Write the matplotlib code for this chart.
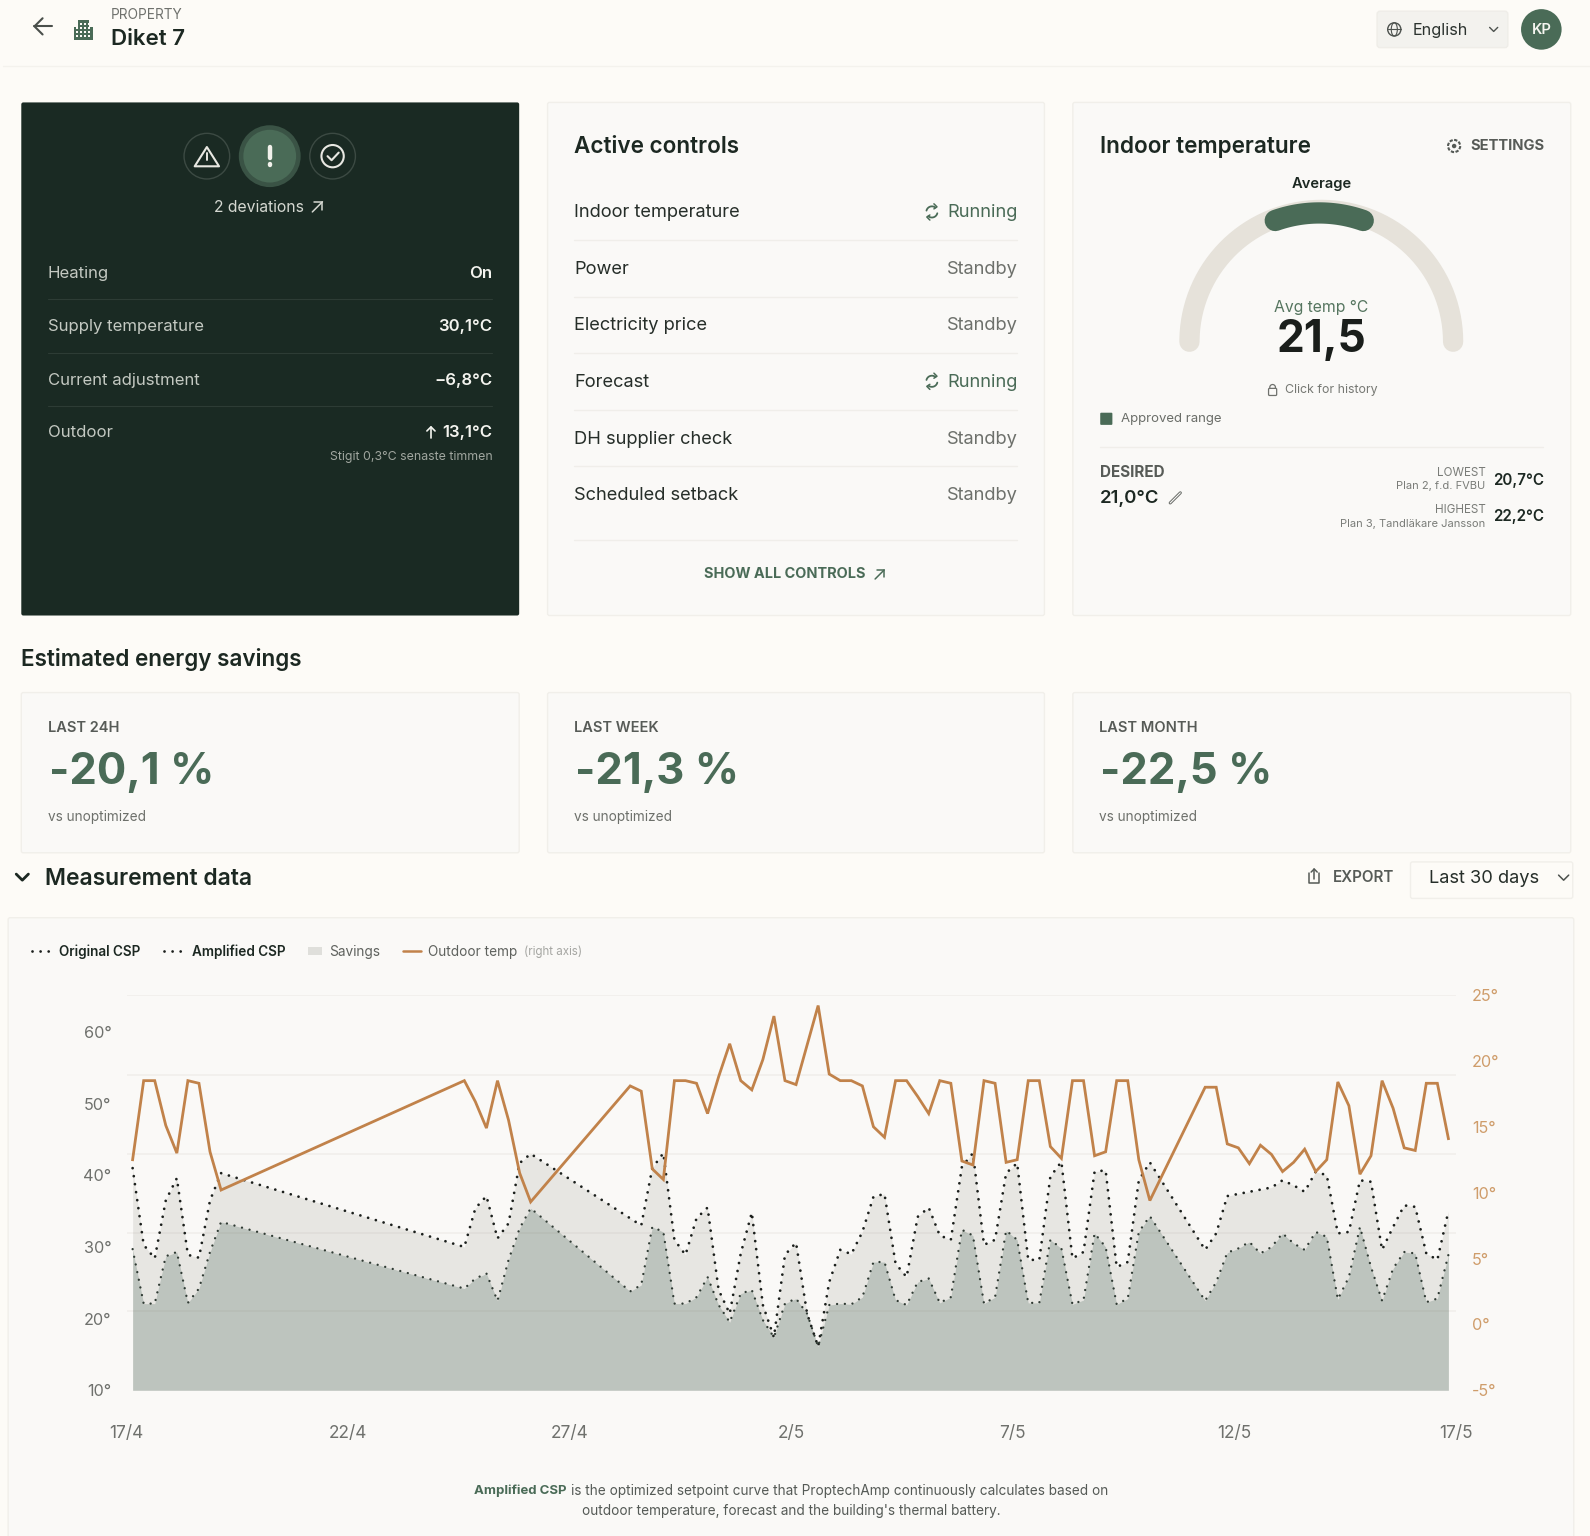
import numpy as np
import matplotlib
matplotlib.use("Agg")
import matplotlib.pyplot as plt
from matplotlib.patches import FancyBboxPatch, Circle, Rectangle, Polygon

plt.rcParams['font.family'] = ['Inter', 'DejaVu Sans']

W, H = 1590, 1536
S = 1590 / 1568

# ---- chart data (one sample every six hours, with gaps where nothing was logged)
sample_index = (list(range(0, 9)) + list(range(30, 37)) + list(range(45, 93)) + list(range(97, 120)))
outdoor_temp = [12.5, 18.5, 18.5, 15.1, 13.0, 18.5, 18.3, 13.1, 10.2,
                18.5, 16.9, 14.9, 18.5, 15.5, 11.5, 9.3,
                18.1, 17.7, 11.8, 11.0, 18.5, 18.5, 18.3, 16.0, 18.8, 21.3, 18.5, 17.8, 20.1, 23.4,
                18.5, 18.2, 21.2, 24.2, 19.0, 18.5, 18.5, 18.1, 15.0, 14.2, 18.5, 18.5, 17.3, 16.0,
                18.5, 18.3, 12.4, 12.1, 18.5, 18.3, 12.3, 12.5, 18.5, 18.5, 13.5, 12.6, 18.5, 18.5,
                12.8, 13.1, 18.5, 18.5, 12.5, 9.4,
                18.0, 18.0, 13.7, 13.4, 12.2, 13.6, 12.9, 11.6, 12.3, 13.3, 11.6, 12.5, 18.4, 16.6,
                11.4, 12.8, 18.5, 16.4, 13.4, 13.2, 18.3, 18.3, 14.1]
original_csp = [41.0, 30.3, 28.4, 36.5, 39.6, 28.9, 28.5, 36.5, 40.3,
                30.0, 35.4, 37.1, 31.2, 33.3, 41.7, 43.0,
                34.0, 33.0, 41.0, 43.1, 31.0, 28.9, 34.0, 35.5, 24.0, 20.7, 29.1, 34.8, 21.9, 17.4,
                28.9, 30.6, 20.7, 16.1, 25.1, 29.6, 29.0, 32.1, 37.0, 37.4, 27.7, 25.8, 34.2, 35.5,
                31.6, 31.0, 41.2, 43.1, 30.3, 31.0, 40.3, 41.7, 28.2, 28.2, 39.8, 41.9, 28.4, 29.3,
                40.5, 40.7, 27.2, 27.9, 39.3, 41.8,
                29.6, 31.9, 37.1, 37.4, 37.7, 38.0, 38.3, 39.3, 38.6, 37.7, 40.5, 40.0, 31.9, 32.1,
                39.3, 39.1, 29.6, 32.8, 35.8, 35.6, 29.1, 28.2, 35.0]
amplified_csp = [29.7, 22.1, 22.1, 28.7, 29.3, 22.2, 24.2, 29.3, 33.5,
                 24.2, 25.6, 26.3, 22.5, 28.2, 32.6, 35.4,
                 23.8, 24.7, 32.8, 32.1, 22.1, 22.1, 23.0, 25.8, 21.9, 19.5, 23.5, 24.0, 19.8, 17.4,
                 22.1, 22.8, 20.7, 16.1, 21.9, 22.1, 22.0, 23.0, 27.9, 27.9, 22.6, 21.9, 25.1, 25.6,
                 22.2, 23.0, 32.4, 31.6, 22.1, 23.0, 32.3, 31.0, 22.2, 22.2, 31.0, 29.8, 22.0, 22.6,
                 31.9, 30.0, 22.0, 22.8, 32.1, 34.3,
                 22.5, 25.1, 29.2, 29.8, 30.7, 29.1, 30.0, 31.9, 30.5, 29.6, 32.1, 31.4, 22.7, 25.8,
                 32.8, 27.2, 22.5, 27.0, 29.3, 29.1, 22.3, 22.8, 28.9]
date_ticks = [0, 5, 10, 15, 20, 25, 30]
date_labels = ['17/4', '22/4', '27/4', '2/5', '7/5', '12/5', '17/5']
left_ticks = [10, 20, 30, 40, 50, 60]
right_ticks = [-5, 0, 5, 10, 15, 20, 25]
grid_levels = [21, 32, 43, 54, 65.16]

# ---- colours
PAGE = '#fdfbf7'; CARD = '#faf9f7'; EDGE = '#f1efea'; DARK = '#1a2a23'; GREEN = '#4a6b57'
INK = '#1c2822'; MUTED = '#6d706b'; ORANGE = '#c1824a'; ORANGE_T = '#cf9d6b'

fig = plt.figure(figsize=(W / 100, H / 100), dpi=100, facecolor=PAGE)
ui = fig.add_axes([0, 0, 1, 1], zorder=1)
ui.set_xlim(0, 1568); ui.set_ylim(H / S, 0); ui.axis('off')


def t(x, y, s, px, color=INK, weight='normal', ha='left', va='center', **kw):
    return ui.text(x, y + 1.5, s, fontsize=px * 0.72 * S, color=color, fontweight=weight, ha=ha, va=va, **kw)


def card(x0, y0, x1, y1, fc=CARD, ec=EDGE, r=2):
    ui.add_patch(FancyBboxPatch((x0 + r, y0 + r), x1 - x0 - 2 * r, y1 - y0 - 2 * r,
                                boxstyle=f'round,pad={r}', fc=fc, ec=ec, lw=1))


def seg(xs, ys, color, lw=1.0, **kw):
    ui.plot(xs, ys, color=color, lw=lw, solid_capstyle='round', solid_joinstyle='round', **kw)


# ---- header
seg([3, 1568], [65, 65], '#f4f2ed', 1)
seg([34, 51], [26, 26], '#4a4f4b', 1.5)
seg([42, 34, 42], [18, 26, 34], '#4a4f4b', 1.5)
ui.add_patch(Rectangle((77, 20), 11, 19, fc=GREEN, ec='none'))
ui.add_patch(Rectangle((73, 27), 19, 12, fc=GREEN, ec='none'))
for bx in (75, 79, 83, 87):
    for by in (23, 27, 31, 35):
        if by == 23 and bx == 75:
            continue
        ui.add_patch(Rectangle((bx, by), 1.5, 1.8, fc=PAGE, ec='none'))
t(109, 13.5, 'PROPERTY', 13.5, '#6f716d')
t(109, 36.5, 'Diket 7', 22, INK, 'semibold')
card(1358, 11, 1487, 47, fc='#f3f2ee', ec='#efede8', r=3)
ui.add_patch(Circle((1375, 29), 6.5, fc='none', ec='#4d524e', lw=1))
seg([1368.5, 1381.5], [29, 29], '#4d524e', 0.8)
ui.add_patch(matplotlib.patches.Ellipse((1375, 29), 6, 13, fc='none', ec='#4d524e', lw=0.8))
t(1393, 28.5, 'English', 16, '#2c332f')
seg([1469, 1473, 1477], [27, 31, 27], '#4d524e', 1)
ui.add_patch(Circle((1520, 29), 20, fc=GREEN, ec='none'))
t(1520, 28, 'KP', 14.5, '#f5f5f0', 'semibold', ha='center')

# ---- dark status card
card(21, 101, 512, 607, fc=DARK, ec='none', r=2)
ui.add_patch(Circle((204, 154), 22.5, fc='none', ec='#3c4a43', lw=1))
ui.add_patch(Circle((328, 154), 22.5, fc='none', ec='#3c4a43', lw=1))
ui.add_patch(Circle((266, 154), 30.5, fc='#3a5345', ec='none'))
ui.add_patch(Circle((266, 154), 26, fc=GREEN, ec='none'))
ui.add_patch(Polygon([[204, 145], [216, 164], [192, 164]], closed=True, fc='none', ec='#e8e8e2', lw=1.5, joinstyle='round'))
seg([204, 204], [151, 158], '#e8e8e2', 1.4)
seg([204, 204], [160.5, 161], '#e8e8e2', 1.4)
seg([266, 266], [145, 156], '#f2f2ec', 3.2)
seg([266, 266], [162, 162.5], '#f2f2ec', 3.2)
ui.add_patch(Circle((328, 154), 11, fc='none', ec='#e8e8e2', lw=1.5))
seg([323, 327, 334], [154, 158, 150.5], '#e8e8e2', 1.5)
t(255, 203, '2 deviations', 15.5, '#d5d8d1', ha='center')
seg([308, 318], [209, 199], '#d5d8d1', 1.1)
seg([310, 318, 318], [199, 199, 207], '#d5d8d1', 1.1)
dark_rows = [('Heating', 'On', 269), ('Supply temperature', '30,1°C', 321),
             ('Current adjustment', '−6,8°C', 374), ('Outdoor', '13,1°C', 426)]
for lab, val, y in dark_rows:
    t(47, y - 0.5, lab, 16.5, '#c4c9c2')
    t(485.5, y - 0.5, val, 16.5, '#f4f4ef', 'semibold', ha='right')
for y in (295, 348, 400):
    seg([47, 485], [y, y], '#2d3c35', 0.8)
seg([425, 425], [432, 421], '#f4f4ef', 1.2)
seg([421, 425, 429], [425, 421, 425], '#f4f4ef', 1.2)
t(485.5, 449.5, 'Stigit 0,3°C senaste timmen', 12.2, '#a0a69f', ha='right')

# ---- active controls
card(540, 101, 1030, 607)
t(566, 143, 'Active controls', 22.2, INK, 'semibold')
ctrl_rows = [('Indoor temperature', 'Running', 209), ('Power', 'Standby', 265),
             ('Electricity price', 'Standby', 320), ('Forecast', 'Running', 376),
             ('DH supplier check', 'Standby', 432), ('Scheduled setback', 'Standby', 488)]
for lab, st, y in ctrl_rows:
    t(566, y - 0.5, lab, 18, '#262e29')
    t(1003.5, y - 0.5, st, 18, GREEN if st == 'Running' else MUTED, ha='right')
    if st == 'Running':
        a = np.linspace(0.9, 2.9, 20)
        seg(919 + 5.5 * np.cos(a), y - 5.5 * np.sin(a), GREEN, 1.3)
        seg(919 - 5.5 * np.cos(a), y + 5.5 * np.sin(a), GREEN, 1.3)
        seg([921, 924, 921], [y - 8, y - 5, y - 3], GREEN, 1.1)
        seg([917, 914, 917], [y + 8, y + 5, y + 3], GREEN, 1.1)
for y in (237, 293, 348, 404, 460, 533):
    seg([566, 1003], [y, y], '#f0eeea', 1)
t(694, 565, 'SHOW ALL CONTROLS', 14.3, GREEN, 'bold')
seg([863, 872], [571, 562], GREEN, 1.1)
seg([865, 872, 872], [562, 562, 569], GREEN, 1.1)

# ---- indoor temperature card
card(1058, 101, 1549, 607)
t(1085, 143, 'Indoor temperature', 22.2, INK, 'semibold')
ui.add_patch(Circle((1434, 144), 6, fc='none', ec='#555a56', lw=1.5, ls=(0, (1.6, 0.7))))
ui.add_patch(Circle((1434, 144), 2.2, fc='#555a56', ec='none'))
t(1450, 142, 'SETTINGS', 14.5, '#575b57', 'bold')
t(1303, 180, 'Average', 14.5, INK, 'semibold', ha='center')
ang = np.radians(np.linspace(0, 180, 200))
ui.plot(1303 + 130 * np.cos(ang), 337 - 130 * np.sin(ang), color='#e6e2da', lw=20 * 0.72 * S, solid_capstyle='round')
ang = np.radians(np.linspace(70.5, 109.5, 60))
ui.plot(1301 + 130 * np.cos(ang), 340 - 130 * np.sin(ang), color=GREEN, lw=21 * 0.72 * S, solid_capstyle='round')
t(1303, 302, 'Avg temp °C', 15.5, '#55755f', ha='center')
t(1303, 334, '21,5', 43.5, '#1a1e1b', 'bold', ha='center')
ui.add_patch(Circle((1255, 382), 2.8, fc='none', ec='#6f716d', lw=0.9))
ui.add_patch(FancyBboxPatch((1252, 384), 6, 5, boxstyle='round,pad=1', fc=CARD, ec='#6f716d', lw=0.9))
t(1267, 383, 'Click for history', 12.2, '#767873')
ui.add_patch(FancyBboxPatch((1086, 408), 10, 10, boxstyle='round,pad=1', fc=GREEN, ec='none'))
t(1105, 412, 'Approved range', 13, '#6a6d68')
seg([1085, 1522], [441, 441], '#f0eeea', 1)
t(1085, 464, 'DESIRED', 15, '#575b57', 'bold')
t(1085, 490, '21,0°C', 18.3, INK, 'semibold')
seg([1154, 1164], [496, 486], '#666a66', 2.2)
seg([1154, 1164], [496, 486], CARD, 0.8)
t(1465, 465, 'LOWEST', 11.5, '#7a7c78', ha='right')
t(1465, 478, 'Plan 2, f.d. FVBU', 11, '#7a7c78', ha='right')
t(1522.5, 472, '20,7°C', 15, INK, 'semibold', ha='right')
t(1465, 501, 'HIGHEST', 11.5, '#7a7c78', ha='right')
t(1465, 515, 'Plan 3, Tandläkare Jansson', 11, '#7a7c78', ha='right')
t(1522.5, 508, '22,2°C', 15, INK, 'semibold', ha='right')

# ---- energy savings
t(21, 649, 'Estimated energy savings', 22.2, INK, 'semibold')
savings = [(21, 'LAST 24H', '-20,1 %', 512), (540, 'LAST WEEK', '-21,3 %', 1030), (1058, 'LAST MONTH', '-22,5 %', 1549)]
for x0, lab, val, x1 in savings:
    card(x0, 683, x1, 841)
    t(x0 + 26, 716, lab, 14.4, '#575b57', 'semibold')
    t(x0 + 27, 760, val, 43, GREEN, 'bold')
    t(x0 + 26, 804, 'vs unoptimized', 13.4, MUTED)

# ---- measurement header
seg([16, 22, 28], [862, 868, 862], INK, 2)
t(44, 865, 'Measurement data', 22.5, INK, 'semibold')
seg([1291, 1291, 1301, 1301], [861, 871, 871, 861], '#555a56', 1.1)
seg([1296, 1296], [867, 857], '#555a56', 1.1)
seg([1293, 1296, 1299], [860, 857, 860], '#555a56', 1.1)
t(1314, 864, 'EXPORT', 15, '#575b57', 'semibold')
card(1391, 850, 1551, 886, fc=PAGE)
t(1409, 865, 'Last 30 days', 18, '#262e29')
seg([1537, 1542, 1547], [863, 868, 863], '#4d524e', 1.1)

# ---- chart card
card(8, 905, 1552, 1560)
dot_a = dict(color='#1b1f1c', lw=2.0, ls=(0, (0.01, 2.9)), dash_capstyle='round')
dot_b = dict(color='#2f3a33', lw=1.7, ls=(0, (0.01, 3.3)), dash_capstyle='round')
ui.plot([32, 52], [938, 938], **dot_a)
t(58, 937, 'Original CSP', 13.4, INK, 'semibold')
ui.plot([162, 183], [938, 938], **dot_a)
t(189, 937, 'Amplified CSP', 13.4, INK, 'semibold')
ui.add_patch(Rectangle((304, 934), 14, 8, fc='#dfdfdb', ec='none'))
t(325, 937, 'Savings', 13.5, '#5f625e')
seg([397, 415], [938, 938], ORANGE, 1.8)
t(422, 937, 'Outdoor temp', 13.4, '#5f625e')
t(517, 937, '(right axis)', 11.4, '#a5a6a2')

t(467, 1469, 'Amplified CSP', 13, GREEN, 'bold')
t(563, 1469, 'is the optimized setpoint curve that ProptechAmp continuously calculates based on', 13.4, '#555a56')
t(780, 1489, "outdoor temperature, forecast and the building's thermal battery.", 13.4, '#555a56', ha='center')

# ---- the chart itself, on real axes
px0, px1, pyT, pyB = 126.5, 1456.0, 995.0, 1390.3
ax = fig.add_axes([px0 / W, 1 - pyB / H, (px1 - px0) / W, (pyB - pyT) / H], zorder=2)
ax.patch.set_alpha(0)
days = 0.138 + 0.2495 * np.array(sample_index)
upper = np.array(original_csp); lower = np.array(amplified_csp)
ax.fill_between(days, 10, lower, color='#3f5546', alpha=0.32, lw=0, zorder=2)
ax.fill_between(days, lower, upper, color='#8a8a80', alpha=0.17, lw=0, zorder=2)
ax.plot(days, upper, zorder=3, **dot_a)
ax.plot(days, lower, zorder=3, **dot_b)
ax.set_xlim(0, 30); ax.set_ylim(10, 65.16)
ax.set_xticks(date_ticks, date_labels)
ax.set_yticks(left_ticks, [f'{v}°' for v in left_ticks])
ax.set_yticks(grid_levels, minor=True)
ax.grid(True, which='minor', axis='y', color='#f0eeea', lw=1.1, zorder=1)
ax.set_axisbelow(True)
ax.tick_params(axis='both', which='both', length=0)
ax.tick_params(axis='y', labelsize=16 * 0.72 * S, labelcolor='#6f716d', pad=10.8)
ax.tick_params(axis='x', labelsize=17 * 0.72 * S, labelcolor='#6f716d', pad=24.8)
for s in ax.spines.values():
    s.set_visible(False)

ax2 = ax.twinx()
ax2.plot(days, outdoor_temp, color=ORANGE, lw=2.0, solid_joinstyle='miter', zorder=4)
ax2.set_ylim(-5, 25)
ax2.set_yticks(right_ticks, [f'{v}°' for v in right_ticks])
ax2.tick_params(axis='y', length=0, labelsize=16 * 0.72 * S, labelcolor=ORANGE_T, pad=11.5)
for s in ax2.spines.values():
    s.set_visible(False)

fig.savefig('out.png', dpi=100, facecolor=PAGE)
